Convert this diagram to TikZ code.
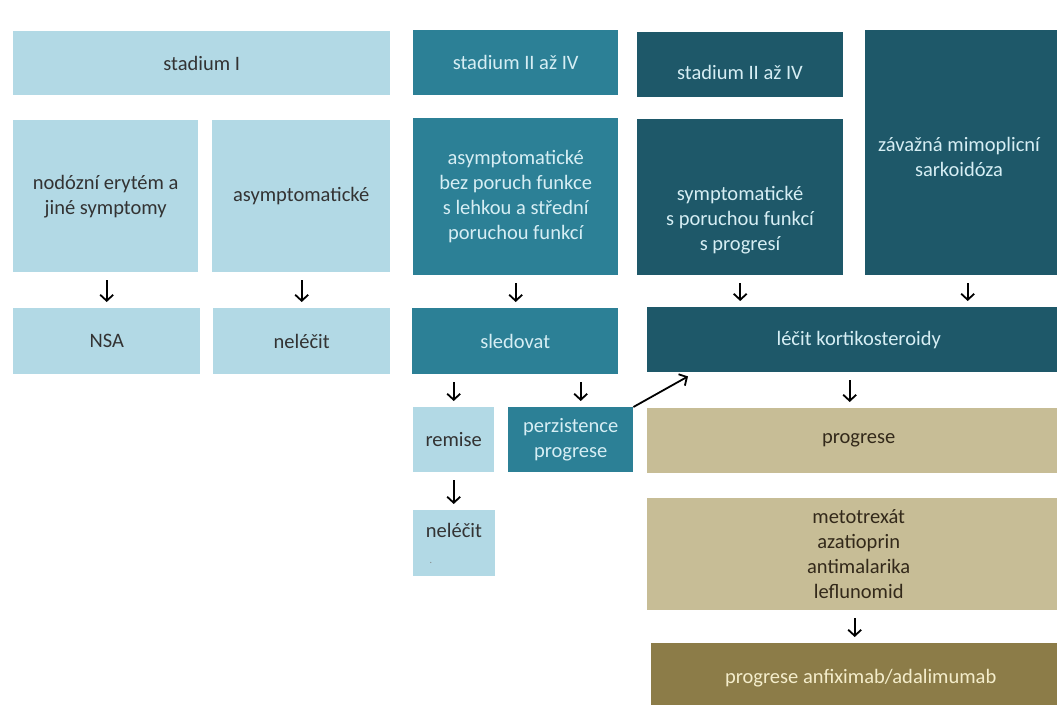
\documentclass[tikz,border=0pt]{standalone}
\usepackage{fontspec}
\setmainfont{Carlito}
\usetikzlibrary{arrows.meta}
\definecolor{lblue}{HTML}{B2D9E5}
\definecolor{mteal}{HTML}{2C8096}
\definecolor{dteal}{HTML}{1E5869}
\definecolor{tanc}{HTML}{C7BD96}
\definecolor{olivec}{HTML}{8C7C48}
\definecolor{darktxt}{HTML}{333333}
\definecolor{lighttxt}{HTML}{D6EEF4}
\definecolor{tantxt}{HTML}{33291A}
\definecolor{olivetxt}{HTML}{F4EDCB}
\begin{document}
\begin{tikzpicture}[x=1pt,y=-1pt,
  txt/.style={inner sep=0pt, align=center, font=\fontsize{20.5}{25}\selectfont},
  box/.style={txt, anchor=north west},
  lb/.style={box, fill=lblue, text=darktxt},
  mt/.style={box, fill=mteal, text=lighttxt},
  dt/.style={box, fill=dteal, text=lighttxt},
  tn/.style={box, fill=tanc, text=tantxt},
  ol/.style={box, fill=olivec, text=olivetxt},
  arr/.style={draw=black, line width=1.8pt, -{Straight Barb[length=6pt,width=13pt]}, shorten <=8pt, shorten >=6pt},
  arrd/.style={draw=black, line width=1.8pt, -{Straight Barb[length=6pt,width=13pt]}},
]
\clip (0,0) rectangle (1057,704);
\fill[white] (0,0) rectangle (1057,704);

% stadium I column
\node[lb, minimum width=377pt, minimum height=64pt] (s1) at (13,31) {stadium I};
\node[lb, minimum width=185pt, minimum height=152pt] (nod) at (13,120) {nodózní erytém a\\jiné symptomy};
\node[lb, minimum width=178pt, minimum height=152pt] (asy) at (212,120) {asymptomatické};
\node[lb, minimum width=187pt, minimum height=66pt] (nsa) at (13,308) {NSA};
\node[lb, minimum width=177pt, minimum height=66pt] (nel1) at (213,308) {neléčit};

% stadium II-IV (mid teal)
\node[mt, minimum width=205pt, minimum height=65pt] (s2a) at (413,30) {stadium II až IV};
\node[mt, minimum width=205pt, minimum height=157pt] (asb) at (413,118) {asymptomatické\\bez poruch funkce\\s lehkou a střední\\poruchou funkcí};
\node[mt, minimum width=206pt, minimum height=66pt] (sled) at (412,308) {sledovat};
\node[lb, minimum width=81pt, minimum height=65pt] (rem) at (413,407) {remise};
\node[mt, minimum width=125pt, minimum height=65pt] (perz) at (508,407) {perzistence\\progrese};
\node[lb, minimum width=82pt, minimum height=66pt] (nel2) at (413,510) {};
\node[txt, text=darktxt] (nel2t) at (454,530) {neléčit};
\node[inner sep=0pt, font=\fontsize{10}{12}\selectfont, text=darktxt!60] (dot) at (431,563) {.};

% stadium II-IV (dark teal)
\node[dt, minimum width=206pt, minimum height=65pt] (s2b) at (637,32) {};
\node[txt, text=lighttxt] (s2bt) at (740,72) {stadium II až IV};
\node[dt, minimum width=206pt, minimum height=156pt] (sym) at (637,119) {};
\node[txt, text=lighttxt] (symt) at (740,220) {symptomatické\\s poruchou funkcí\\s progresí};
\node[dt, minimum width=205pt, minimum height=245pt] (zav) at (865,30) {};
\node[txt, text=lighttxt] (zavt) at (959,157) {závažná mimoplicní\\sarkoidóza};
\node[dt, minimum width=423pt, minimum height=65pt] (lec) at (647,307) {léčit kortikosteroidy};

% tan / olive
\node[tn, minimum width=423pt, minimum height=65pt] (prog) at (647,408) {progrese};
\node[tn, minimum width=423pt, minimum height=112pt] (met) at (647,498) {metotrexát\\azatioprin\\antimalarika\\leflunomid};
\node[ol, minimum width=419pt, minimum height=70pt] (anf) at (651,643) {progrese anfiximab/adalimumab};

% arrows
\draw[arr] (nsa.north |- nod.south) -- (nsa.north);
\draw[arr] (nel1.north |- asy.south) -- (nel1.north);
\draw[arr] (asb.south) -- (asb.south |- sled.north);
\draw[arr] (sym.south) -- (sym.south |- lec.north);
\draw[arr] (zav.south) -- (zav.south |- lec.north);
\draw[arr] (rem.north |- sled.south) -- (rem.north);
\draw[arr] ([xshift=10pt]perz.north |- sled.south) -- ([xshift=10pt]perz.north);
\draw[arr] (rem.south) -- (nel2.north -| rem.south);
\draw[arr] ([xshift=-9pt]prog.north |- lec.south) -- ([xshift=-9pt]prog.north);
\draw[arr] ([xshift=-4pt]met.south) -- ([xshift=-4pt]met.south |- anf.north);
\draw[arrd] (perz.north east) -- ([xshift=41pt,yshift=-4pt]lec.south west);
\end{tikzpicture}
\end{document}
